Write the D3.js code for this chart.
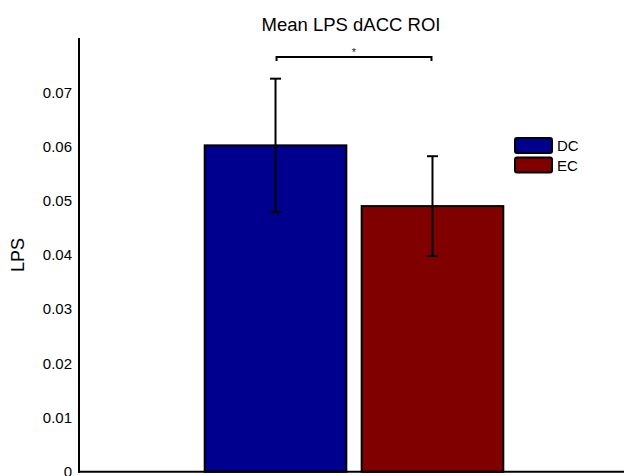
<!DOCTYPE html>
<html>
<head>
<meta charset="utf-8">
<script src="https://cdn.jsdelivr.net/npm/d3@7"></script>
<style>
  html, body { margin: 0; padding: 0; background: #fff; }
  svg { display: block; font-family: Arial, "Liberation Sans", Helvetica, sans-serif; }
</style>
</head>
<body>
<svg id="chart" width="624" height="476"></svg>
<script>
// Group means and standard errors
const groups = ["DC", "EC"];
const means = [0.0602, 0.0490];
const errors = [0.0123, 0.0092];
const colors = ["#00008F", "#800000"];
const yTicks = [0, 0.01, 0.02, 0.03, 0.04, 0.05, 0.06, 0.07];
const title = "Mean LPS dACC ROI";
const yLabel = "LPS";
const sigMark = "*";

const svg = d3.select("#chart");

const x = d3.scaleLinear().domain([0.5, 1.5]).range([79, 629]);
const y = d3.scaleLinear().domain([0, 0.08]).range([471.8, 38]);

// grouped bar geometry, in x-domain units
const barOffset = 0.1427;
const barWidth = 0.2575;
const center = i => 1 + (i === 0 ? -barOffset : barOffset);

// Bars
svg.selectAll("rect.bar")
  .data(means)
  .join("rect")
  .attr("class", "bar")
  .attr("x", (d, i) => x(center(i) - barWidth / 2))
  .attr("width", x(barWidth) - x(0))
  .attr("y", d => y(d))
  .attr("height", d => y(0) - y(d))
  .attr("fill", (d, i) => colors[i])
  .attr("stroke", "#000")
  .attr("stroke-width", 2);

// Error bars
const capHalf = 5.5;
const eb = svg.selectAll("g.err")
  .data(means)
  .join("g")
  .attr("class", "err")
  .attr("stroke", "#000")
  .attr("stroke-width", 2);
eb.append("line")
  .attr("x1", (d, i) => x(center(i))).attr("x2", (d, i) => x(center(i)))
  .attr("y1", (d, i) => y(d + errors[i])).attr("y2", (d, i) => y(d - errors[i]));
eb.append("line")
  .attr("x1", (d, i) => x(center(i)) - capHalf).attr("x2", (d, i) => x(center(i)) + capHalf)
  .attr("y1", (d, i) => y(d + errors[i])).attr("y2", (d, i) => y(d + errors[i]));
eb.append("line")
  .attr("x1", (d, i) => x(center(i)) - capHalf).attr("x2", (d, i) => x(center(i)) + capHalf)
  .attr("y1", (d, i) => y(d - errors[i])).attr("y2", (d, i) => y(d - errors[i]));

// Axes (no tick marks)
const yAxis = d3.axisLeft(y).tickValues(yTicks).tickSize(0).tickPadding(7)
  .tickFormat(d => d === 0 ? "0" : d3.format(".2f")(d));
const gy = svg.append("g").attr("transform", `translate(${x(0.5)},0)`).call(yAxis);
gy.select(".domain").remove();
gy.selectAll("text").attr("font-size", 15).attr("font-family", "Arial, 'Liberation Sans', sans-serif").attr("fill", "#000");

svg.append("line")
  .attr("x1", x(0.5)).attr("x2", x(0.5))
  .attr("y1", y(0.08)).attr("y2", y(0) + 1)
  .attr("stroke", "#000").attr("stroke-width", 2);
svg.append("line")
  .attr("x1", x(0.5) - 1).attr("x2", x(1.5))
  .attr("y1", y(0)).attr("y2", y(0))
  .attr("stroke", "#000").attr("stroke-width", 2);

// Significance bracket
const bracketY = 57;
const bx1 = x(center(0)) + 1, bx2 = x(center(1)) - 1;
svg.append("path")
  .attr("d", `M${bx1},${bracketY + 4}V${bracketY}H${bx2}V${bracketY + 4}`)
  .attr("fill", "none").attr("stroke", "#000").attr("stroke-width", 2);
svg.append("text")
  .attr("x", (bx1 + bx2) / 2).attr("y", bracketY - 1)
  .attr("text-anchor", "middle").attr("font-size", 11).attr("fill", "#222")
  .text(sigMark);

// Title and axis label
svg.append("text")
  .attr("x", 351).attr("y", 31)
  .attr("text-anchor", "middle").attr("font-size", 18.5).attr("fill", "#000")
  .text(title);
svg.append("text")
  .attr("transform", "translate(24,255) rotate(-90)")
  .attr("text-anchor", "middle").attr("font-size", 18).attr("fill", "#000")
  .text(yLabel);

// Legend
const legend = svg.append("g").attr("transform", "translate(515,138)");
const li = legend.selectAll("g").data(groups).join("g")
  .attr("transform", (d, i) => `translate(0,${i * 19.5})`);
li.append("rect")
  .attr("width", 37).attr("height", 15).attr("rx", 2)
  .attr("fill", (d, i) => colors[i]).attr("stroke", "#000").attr("stroke-width", 2);
li.append("text")
  .attr("x", 42).attr("y", 13)
  .attr("font-size", 15).attr("fill", "#000")
  .text(d => d);
</script>
</body>
</html>
